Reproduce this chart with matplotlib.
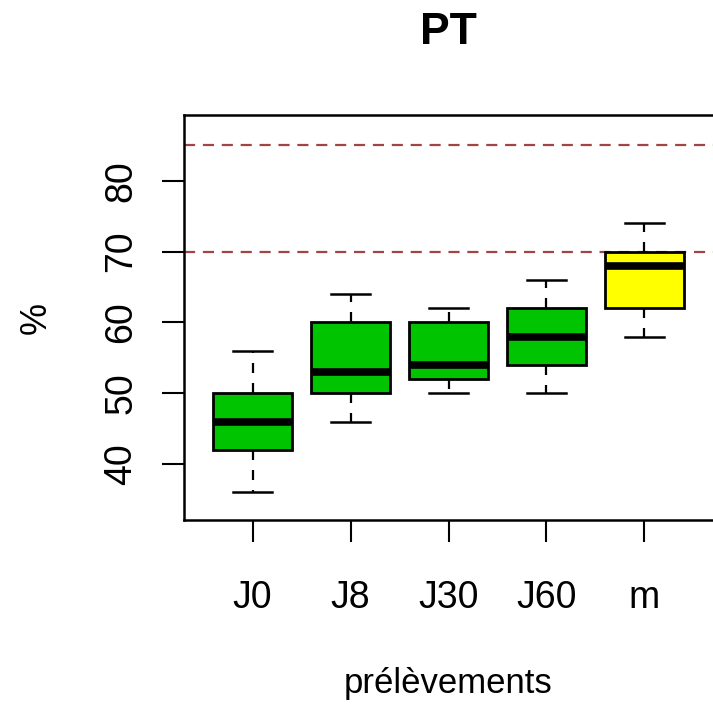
import matplotlib
matplotlib.use("Agg")
import matplotlib.pyplot as plt

categories = ["J0", "J8", "J30", "J60", "m"]
whisker_low = [36, 46, 50, 50, 58]
q1 = [42, 50, 52, 54, 62]
medians = [46, 53, 54, 58, 68]
q3 = [50, 60, 60, 62, 70]
whisker_high = [56, 64, 62, 66, 74]
box_colors = ["#00C400", "#00C400", "#00C400", "#00C400", "#FFFF00"]
ref_lines = [85, 70]
y_ticks = [40, 50, 60, 70, 80]

plt.rcParams['font.family'] = ['Liberation Sans Narrow', 'Liberation Sans', 'DejaVu Sans']

fig = plt.figure(figsize=(7.13, 7.04), dpi=100)
ax = fig.add_axes([184/713, 1-520/704, (713-184)/713, (520-115)/704])

stats = []
for i, c in enumerate(categories):
    stats.append(dict(label=c, whislo=whisker_low[i], q1=q1[i], med=medians[i],
                      q3=q3[i], whishi=whisker_high[i], fliers=[]))

pos = list(range(1, len(categories) + 1))
bp = ax.bxp(stats, positions=pos, widths=0.8, patch_artist=True, showfliers=False,
            boxprops=dict(edgecolor='black', linewidth=2.0),
            whiskerprops=dict(color='black', linewidth=1.6, linestyle=(0, (4.5, 4.5))),
            capprops=dict(color='black', linewidth=1.8),
            capwidths=0.4,
            medianprops=dict(color='black', linewidth=5.5, solid_capstyle='butt'))
for patch, col in zip(bp['boxes'], box_colors):
    patch.set_facecolor(col)

for v in ref_lines:
    ax.axhline(v, color='#A04545', linewidth=1.6, linestyle=(0, (5, 3.5)), zorder=0)

ax.set_xlim(0.3, 5.7)
ax.set_ylim(32.1, 89.3)
ax.set_yticks(y_ticks)
ax.set_yticklabels([str(t) for t in y_ticks], rotation=90, va='center')
ax.set_xticks(pos)
ax.set_xticklabels(categories)
ax.tick_params(axis='both', direction='out', length=16, width=1.5, labelsize=27, colors='black')
ax.tick_params(axis='x', pad=27)
ax.tick_params(axis='y', pad=16)
for s in ['left', 'bottom', 'top']:
    ax.spines[s].set_linewidth(1.8)
ax.spines['right'].set_visible(False)

ax.set_title("PT", fontsize=32, fontweight='bold', pad=51, family=['Liberation Sans', 'DejaVu Sans'])
ax.set_xlabel("prélèvements", fontsize=25, labelpad=37)
ax.set_ylabel("%", fontsize=26, labelpad=36)

fig.savefig("out.png", dpi=100)
